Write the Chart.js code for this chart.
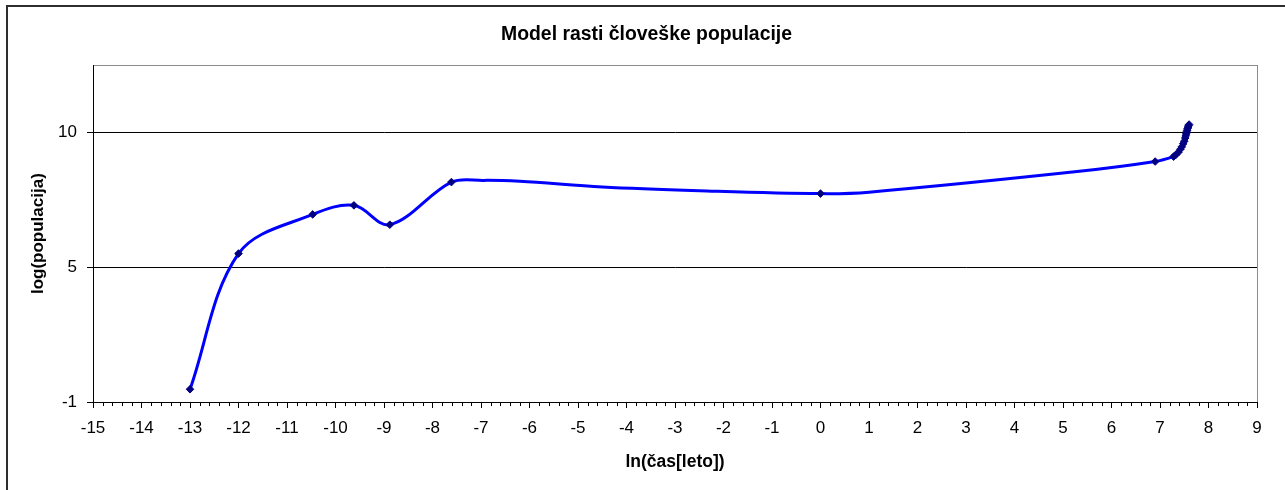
<!DOCTYPE html>
<html>
<head>
<meta charset="utf-8">
<script src="https://cdn.jsdelivr.net/npm/chart.js@4.4.1/dist/chart.umd.min.js"></script>
<style>
  html, body { margin: 0; padding: 0; background: #fff; overflow: hidden; }
  #wrap { position: relative; width: 1285px; height: 490px; }
  #frame { position: absolute; left: 6px; top: 5px; width: 1400px; height: 600px;
           border-left: 2px solid #2e2e2e; border-top: 2px solid #2e2e2e; }
  canvas { position: absolute; left: 0; top: 0; }
</style>
</head>
<body>
<div id="wrap">
  <div id="frame"></div>
  <canvas id="chart" width="1285" height="490"></canvas>
</div>
<script>
// ln(čas[leto]) -> log(populacija), odčitano s slike
const curveX = [-13.0, -12.0, -10.47, -9.62, -8.88, -7.61, -6.95, -6.2, -4.5, -2.5, 0.0, 1.0, 5.29, 6.90,
                7.28, 7.33, 7.38, 7.42, 7.45, 7.48, 7.50, 7.52, 7.53, 7.54, 7.55, 7.56, 7.57, 7.58, 7.59, 7.60];
const curveY = [-0.48, 5.06, 6.66, 7.03, 6.24, 7.98, 8.05, 8.01, 7.78, 7.63, 7.51, 7.57, 8.41, 8.82,
                9.02, 9.10, 9.20, 9.32, 9.42, 9.55, 9.65, 9.78, 9.87, 9.95, 10.03, 10.10, 10.17, 10.23, 10.28, 10.33];

// točke z oznako (romb)
const markerX = [-13.0, -12.0, -10.47, -9.62, -8.88, -7.61, 0.0, 6.90,
                 7.28, 7.33, 7.38, 7.42, 7.45, 7.48, 7.50, 7.52, 7.53, 7.54, 7.55, 7.56, 7.57, 7.58, 7.59, 7.60];
const markerY = [-0.48, 5.06, 6.66, 7.03, 6.24, 7.98, 7.51, 8.82,
                 9.02, 9.10, 9.20, 9.32, 9.42, 9.55, 9.65, 9.78, 9.87, 9.95, 10.03, 10.10, 10.17, 10.23, 10.28, 10.33];

const xMin = -15, xMax = 9, xMinorStep = 0.2;
const yMin = -1, yMax = 12.75;
const yTicks = [-1, 4.5, 10];

const FONT = "'Liberation Sans', Arial, sans-serif";

// siv okvir risalne površine
const plotFrame = {
  id: "plotFrame",
  beforeDraw(chart) {
    const { ctx, chartArea: a } = chart;
    ctx.save();
    ctx.strokeStyle = "#8c8c8c";
    ctx.lineWidth = 1;
    ctx.strokeRect(Math.round(a.left) + 0.5, Math.round(a.top) + 0.5,
                   Math.round(a.right - a.left), Math.round(a.bottom - a.top));
    ctx.restore();
  }
};

// pomožne oznake na osi x
const minorTicks = {
  id: "minorTicks",
  afterDraw(chart) {
    const { ctx } = chart;
    const sx = chart.scales.x;
    const y0 = Math.round(sx.top);
    ctx.save();
    ctx.strokeStyle = "#000";
    ctx.lineWidth = 1;
    ctx.beginPath();
    const n = Math.round((xMax - xMin) / xMinorStep);
    for (let i = 0; i <= n; i++) {
      if (i % 5 === 0) continue;
      const px = Math.round(sx.getPixelForValue(xMin + i * xMinorStep)) + 0.5;
      ctx.moveTo(px, y0);
      ctx.lineTo(px, y0 + 4);
    }
    ctx.stroke();
    ctx.restore();
  }
};

const ctx = document.getElementById("chart");
new Chart(ctx, {
  type: "line",
  data: {
    datasets: [
      {
        label: "oznake",
        data: markerX.map((x, i) => ({ x, y: markerY[i] })),
        showLine: false,
        pointStyle: "rectRot",
        pointRadius: 3.8,
        backgroundColor: "#000080",
        borderColor: "#000080",
        borderWidth: 1
      },
      {
        label: "populacija",
        data: curveX.map((x, i) => ({ x, y: curveY[i] })),
        borderColor: "#0000ff",
        borderWidth: 3,
        pointRadius: 0,
        tension: 0.35,
        fill: false
      }
    ]
  },
  options: {
    responsive: false,
    devicePixelRatio: 1,
    animation: false,
    layout: { padding: { left: 8, right: 0, top: 0, bottom: 0 } },
    plugins: {
      legend: { display: false },
      tooltip: { enabled: false },
      title: {
        display: true,
        text: "Model rasti človeške populacije",
        color: "#000",
        font: { family: FONT, size: 19.4, weight: "bold", lineHeight: 1.2 },
        padding: { top: 23, bottom: 19 }
      }
    },
    scales: {
      x: {
        type: "linear",
        min: xMin,
        max: xMax,
        afterFit(s) { s.height = 88; },
        ticks: {
          stepSize: 1,
          autoSkip: false,
          maxRotation: 0,
          padding: 10,
          color: "#000",
          font: { family: FONT, size: 17 }
        },
        grid: { drawOnChartArea: false, drawTicks: true, tickLength: 6, color: "#000" },
        border: { display: true, color: "#000", width: 1 },
        title: {
          display: true,
          text: "ln(čas[leto])",
          color: "#000",
          font: { family: FONT, size: 17.5, weight: "bold", lineHeight: 1.2 },
          padding: { top: 0, bottom: 17 }
        }
      },
      y: {
        type: "linear",
        min: yMin,
        max: yMax,
        afterFit(s) { s.width = 85; },
        afterBuildTicks(s) { s.ticks = yTicks.map(v => ({ value: v })); },
        ticks: {
          padding: 10,
          color: "#000",
          font: { family: FONT, size: 17 },
          callback: v => String(Math.round(v))
        },
        grid: { color: "#000", lineWidth: 1, tickLength: 6, drawTicks: true },
        border: { display: true, color: "#000", width: 1 },
        title: {
          display: true,
          text: "log(populacija)",
          color: "#000",
          font: { family: FONT, size: 17, weight: "bold", lineHeight: 1.2 },
          padding: { top: 20, bottom: 0 }
        }
      },
      // prazen prostor desno od risalne površine
      yRight: {
        type: "linear",
        position: "right",
        display: true,
        afterFit(s) { s.width = 28; },
        ticks: { display: false },
        grid: { display: false },
        border: { display: false }
      }
    }
  },
  plugins: [plotFrame, minorTicks]
});
</script>
</body>
</html>
